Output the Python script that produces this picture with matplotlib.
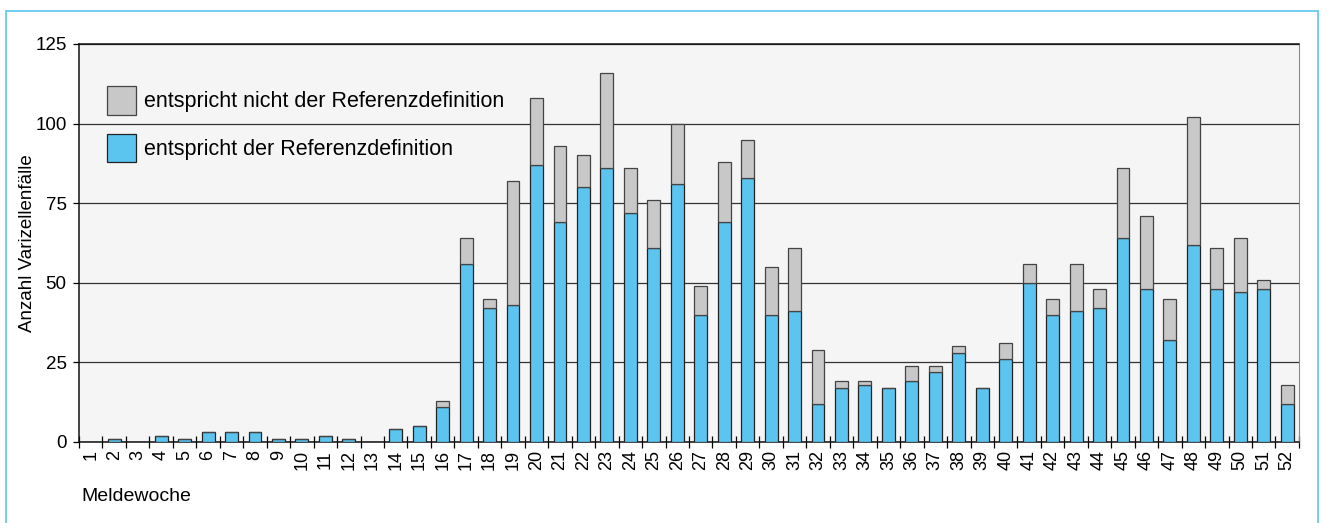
import numpy as np
import matplotlib.pyplot as plt
from matplotlib.patches import Patch, Rectangle

plt.rcParams['font.family'] = ['Liberation Sans', 'DejaVu Sans']

# Meldewoche 1-52
weeks = list(range(1, 53))
# entspricht der Referenzdefinition
ref_ok = [0, 1, 0, 2, 1, 3, 3, 3, 1, 1, 2, 1, 0, 4, 5, 11, 56, 42, 43, 87,
          69, 80, 86, 72, 61, 81, 40, 69, 83, 40, 41, 12, 17, 18, 17, 19, 22, 28, 17, 26,
          50, 40, 41, 42, 64, 48, 32, 62, 48, 47, 48, 12]
# Gesamt pro Woche
total = [0, 1, 0, 2, 1, 3, 3, 3, 1, 1, 2, 1, 0, 4, 5, 13, 64, 45, 82, 108,
         93, 90, 116, 86, 76, 100, 49, 88, 95, 55, 61, 29, 19, 19, 17, 24, 24, 30, 17, 31,
         56, 45, 56, 48, 86, 71, 45, 102, 61, 64, 51, 18]
not_ok = [t - r for t, r in zip(total, ref_ok)]

blue = '#5bc5f0'
grey = '#c8c8c8'

fig = plt.figure(figsize=(13.35, 5.23), dpi=100)
ax = fig.add_axes([0.0592, 0.1549, 0.9138, 0.761])
ax.set_facecolor('#f5f5f5')

x = np.array(weeks)
ax.bar(x, ref_ok, width=0.55, color=blue, edgecolor='#222222', linewidth=0.9, zorder=3)
ax.bar(x, not_ok, bottom=ref_ok, width=0.55, color=grey, edgecolor='#444444',
       linewidth=0.9, zorder=3)

ax.set_xlim(0.5, 52.5)
ax.set_ylim(0, 125)
ax.set_yticks([0, 25, 50, 75, 100, 125])
ax.yaxis.grid(True, color='#333333', linewidth=0.9, zorder=1)
ax.set_axisbelow(True)

ax.set_xticks(x)
ax.set_xticklabels([str(w) for w in weeks], rotation=90, fontsize=13)
ax.set_xticks(np.arange(0.5, 53, 1), minor=True)
ax.tick_params(axis='x', which='major', length=0, pad=6)
ax.tick_params(axis='x', which='minor', direction='inout', length=8, width=0.9)
ax.tick_params(axis='y', direction='out', length=4, width=0.9, labelsize=13.5, pad=5)

for s in ['left', 'bottom', 'top']:
    ax.spines[s].set_color('#111111')
    ax.spines[s].set_linewidth(1.1)
ax.spines['right'].set_color('#888888')

ax.set_ylabel('Anzahl Varizellenfälle', fontsize=13.5)
ax.yaxis.set_label_coords(-0.0352, 0.5)
fig.text(0.0607, 0.05, 'Meldewoche', fontsize=14, ha='left', va='center')

handles = [Patch(facecolor=grey, edgecolor='#444444', linewidth=0.9,
                 label='entspricht nicht der Referenzdefinition'),
           Patch(facecolor=blue, edgecolor='#222222', linewidth=0.9,
                 label='entspricht der Referenzdefinition')]
ax.legend(handles=handles, loc='upper left', bbox_to_anchor=(0.023, 0.894),
          frameon=False, fontsize=15.5, handlelength=1.35, handleheight=1.65,
          labelspacing=0.9, handletextpad=0.35, borderpad=0, borderaxespad=0)

fig.patches.append(Rectangle((0.0045, -0.1), 0.9825, 1.079, transform=fig.transFigure,
                             fill=False, edgecolor='#5bc5f0', linewidth=1.2))

fig.savefig('out.png', dpi=100)
